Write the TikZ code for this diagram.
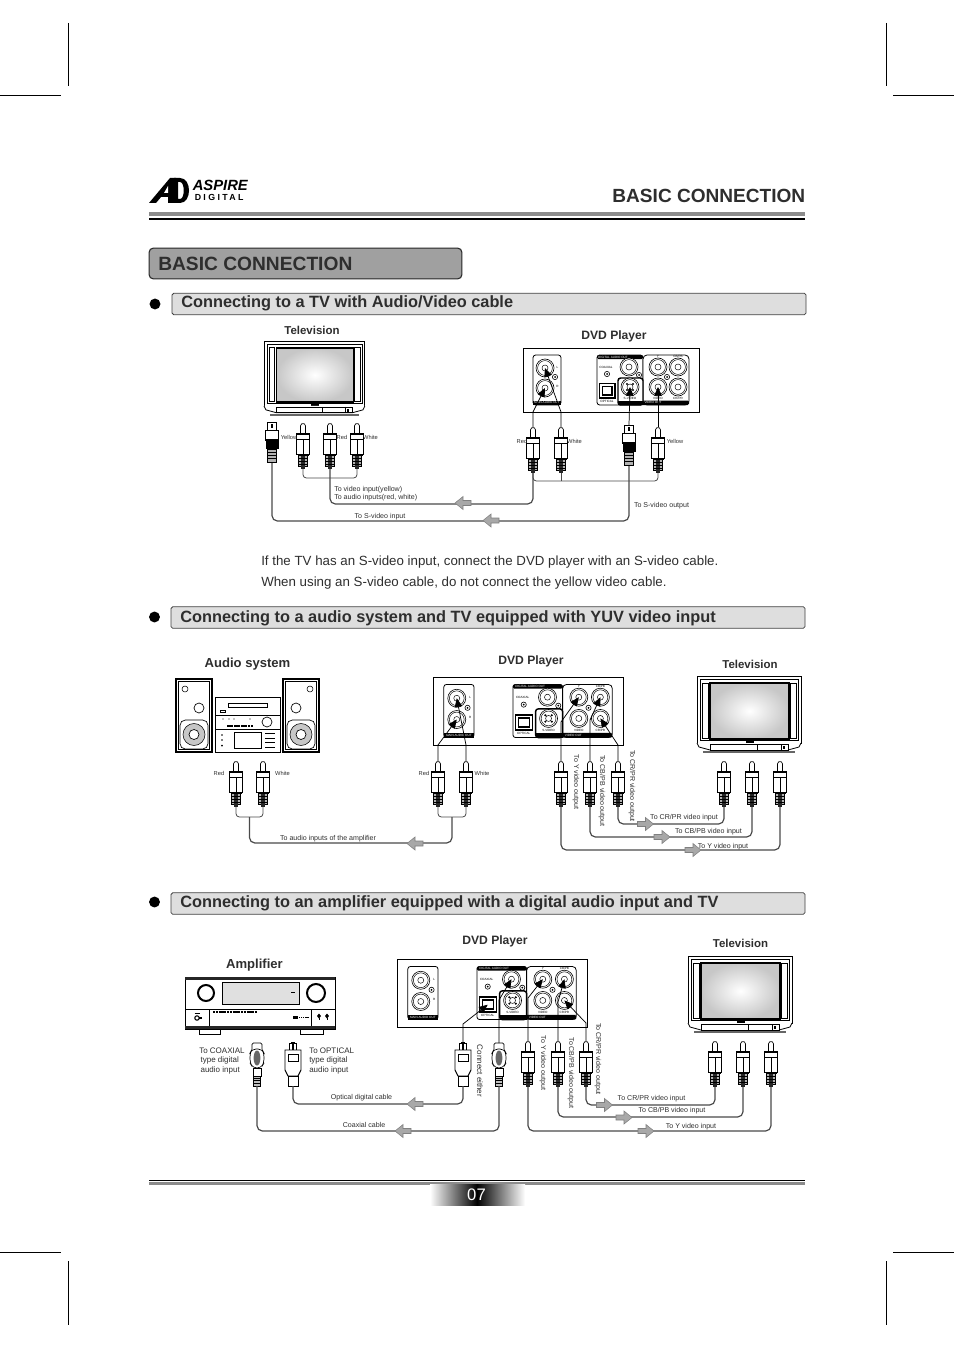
\documentclass[tikz,border=0pt]{standalone}
\usepackage{fontspec}
\setmainfont{Liberation Sans}
\newfontfamily\logofont[LetterSpace=27]{Liberation Sans}
\usetikzlibrary{positioning, arrows.meta, calc}
\definecolor{txtDark}{HTML}{2E2E2E}
\definecolor{flowGray}{HTML}{A8A8A8}
\definecolor{headGray}{HTML}{A0A0A0}
\definecolor{secGray}{HTML}{DEDEDE}
\definecolor{cableGray}{HTML}{4A4A4A}
\tikzset{
  lab/.style={font=\fontsize{5.3}{6.2}\selectfont, text=txtDark, inner sep=0pt, align=left, yshift=-.75pt},
  labS/.style={lab, font=\fontsize{4.3}{5}\selectfont},
  ttl/.style={font=\fontsize{8.6}{10}\bfseries\selectfont, text=txtDark, inner sep=0pt},
  ttlD/.style={font=\fontsize{9.1}{10}\bfseries\selectfont, text=txtDark, inner sep=0pt, yshift=-1.1pt},
  ttlB/.style={font=\fontsize{9.8}{11}\bfseries\selectfont, text=txtDark, inner sep=0pt, yshift=-.6pt},
  sechead/.style={font=\fontsize{12.25}{14}\bfseries\selectfont, text=txtDark, inner sep=0pt, anchor=west},
  secbox/.style={draw=black!75, fill=secGray, line width=.6pt, rounded corners=1.2pt, inner sep=0pt,
                 minimum width=475.5pt, minimum height=16pt},
  bul/.style={circle, fill=black, inner sep=0pt, minimum size=8.2pt},
  cable/.style={draw=cableGray, line width=.9pt, rounded corners=4pt},
  tee/.style={draw=cableGray, line width=.6pt, rounded corners=2.5pt},
  lead/.style={draw=black, line width=.55pt, -{Triangle[length=6.5pt,width=5.6pt]}},
  crop/.style={draw=black, line width=.5pt},
  tiny/.style={font=\fontsize{2.3}{3}\selectfont, inner sep=0pt},
  plugln/.style={draw=black, line width=.5pt},
  conn/.pic={
    \draw[black, line width=.45pt, fill=white] (0,0) circle (9);
    \draw[black, line width=.35pt] (0,0) circle (7.4);
    \draw[black, line width=.35pt] (0,0) circle (3);
  },
  screw/.pic={
    \draw[black, line width=.45pt] (0,0) circle (2.6);
    \fill[black] (0,0) circle (1);
  },
  rca/.pic={
    \draw[plugln, fill=white, rounded corners=1pt] (-2.5,10) -- (-2.5,1.5) -- (0,0) -- (2.5,1.5) -- (2.5,10);
    \draw[plugln, fill=white, line width=.65pt] (-6.5,10) rectangle (6.5,31);
    \fill[black] (-6.5,10) rectangle (6.5,11.5);
    \draw[black, line width=.3pt] (-6.5,16) -- (6.5,16) (0,16) -- (0,31);
    \fill[black] (-5.5,30.5) rectangle (5.5,32.5);
    \draw[plugln, fill=black!30] (-4.5,32.5) rectangle (4.5,43);
    \fill[black!85] (-1.7,32.5) rectangle (1.7,46);
    \foreach \yy in {35,38,41}{ \draw[black, line width=.35pt] (-4.5,\yy) -- (4.5,\yy); }
    \coordinate (-top) at (0,0);
    \coordinate (-bot) at (0,46);
  },
  svidplug/.pic={
    \draw[plugln, fill=white] (-4.5,0) rectangle (4.5,8);
    \fill[black] (-1,2) rectangle (1,6);
    \draw[plugln, fill=white] (-6.5,8) rectangle (6.5,18);
    \fill[black] (-6.5,17) rectangle (6.5,27);
    \draw[plugln, fill=black!30] (-4.5,27) rectangle (4.5,40);
    \foreach \yy in {30,33,36}{ \draw[black, line width=.4pt] (-4.5,\yy) -- (4.5,\yy); }
    \coordinate (-top) at (0,0);
    \coordinate (-bot) at (0,41);
  },
  coaxplug/.pic={
    \draw[plugln, fill=white, rounded corners=1pt] (-5,6) -- (-5,0) -- (5,0) -- (5,6);
    \draw[plugln, fill=white, rounded corners=3pt] (-5,6) -- (-7,10) -- (-7,20) -- (-4,25) -- (4,25) -- (7,20) -- (7,10) -- (5,6) -- cycle;
    \fill[black!60] (0,15) ellipse (3.4 and 7.5);
    \draw[plugln, fill=white] (-4,25) rectangle (4,33);
    \draw[plugln, fill=black!25] (-3.5,33) rectangle (3.5,43);
    \foreach \yy in {35,37.5,40}{ \draw[black, line width=.35pt] (-3.5,\yy) -- (3.5,\yy); }
    \coordinate (-top) at (0,0);
    \coordinate (-bot) at (0,43);
  },
  optplug/.pic={
    \draw[plugln, fill=white] (-3.5,1) -- (-1.5,1) -- (-1.5,0) -- (1.5,0) -- (1.5,1) -- (3.5,1) -- (3.5,8) -- (-3.5,8) -- cycle;
    \fill[black] (-1,1) rectangle (1,8);
    \draw[plugln, fill=white, line width=.7pt] (-8,8) -- (8,8) -- (8,28) -- (5,34) -- (-5,34) -- (-8,28) -- cycle;
    \draw[plugln] (-5,12) rectangle (5,19);
    \draw[plugln, fill=white] (-5,34) rectangle (5,44);
    \coordinate (-top) at (0,0);
    \coordinate (-bot) at (0,44);
  },
  flowarr/.pic={
    \draw[draw=black!50, fill=flowGray, line width=.4pt]
      (-8,-2.5) -- (0,-2.5) -- (0,-6.5) -- (8,0) -- (0,6.5) -- (0,2.5) -- (-8,2.5) -- cycle;
  },
  tvset/.pic={
    \draw[black, line width=.7pt, fill=white] (0,0) rectangle (104,67);
    \draw[black, line width=.35pt] (3,3) rectangle (101,64);
    \draw[black, line width=.45pt] (5,7) rectangle (11,62);
    \draw[black, line width=.45pt] (93,7) rectangle (99,62);
    \shade[inner color=white, outer color=black!22] (13,7) rectangle (92,63);
    \draw[black, line width=1.1pt] (13,7) rectangle (92,63);
    \draw[black, line width=.3pt] (49,65) rectangle (56,66.5);
    \draw[black, line width=.6pt, fill=white] (0,67) -- (2,71) -- (13,74) -- (91,74) -- (102,71) -- (104,67);
    \draw[black, line width=.5pt, fill=white] (13,68) rectangle (91,74);
    \draw[black, line width=.4pt] (60,68) -- (60,74) (84,68) -- (84,74);
    \fill[black] (86,70) rectangle (88,73);
    \fill[black!60] (6,75) rectangle (98,77);
  },
  dvdpanel/.pic={
    \draw[black, line width=.7pt, fill=white] (0,0) rectangle (176,64);
    % analogue audio block
    \draw[black, line width=.6pt, rounded corners=2pt, fill=white] (10,7) rectangle (38,57);
    \fill[black] (10,52.5) rectangle (38,57);
    \node[tiny, text=white] (-mainT) at (24,54.8) {MAIN AUDIO OUT};
    \pic at (22,20) {conn};
    \pic at (22,40) {conn};
    \pic at (32,29) {screw};
    \node[tiny] (-lT) at (34.5,19) {L};
    \node[tiny] (-rT) at (34.5,38) {R};
    % digital block
    \draw[black, line width=.6pt, rounded corners=2pt, fill=white] (74,7) rectangle (120,57);
    \fill[black, rounded corners=1pt] (74,7) rectangle (120,11);
    \node[tiny, text=white] (-digT) at (90,9) {DIGITAL AUDIO OUT};
    \node[tiny] (-coaxT) at (83,19) {COAXIAL};
    \pic at (84,26) {screw};
    \pic at (106,19) {conn};
    \draw[black, line width=1.2pt, fill=white] (76.5,35.5) rectangle (92,50);
    \draw[black, line width=.9pt] (79.5,38.5) rectangle (89,47);
    \node[tiny] (-optT) at (84,53) {OPTICAL};
    % video block
    \draw[black, line width=.6pt, rounded corners=3pt, fill=white] (120,7) rectangle (166,57);
    \fill[black, rounded corners=1pt] (95,52.5) rectangle (166,57);
    \draw[black, line width=1.1pt, rounded corners=2pt, fill=white] (95,30) rectangle (120,57);
    \fill[black] (95,52.5) rectangle (120,57);
    \pic at (107,39) {conn};
    \foreach \xx/\yy in {-3/-3,3/-3,-3/3,3/3}{ \fill[black] ($(107,39)+(\xx,\yy)$) circle (1.1); }
    \pic at (135,19) {conn};
    \pic at (155,19) {conn};
    \pic at (135,39) {conn};
    \pic at (155,39) {conn};
    \pic at (144,29) {screw};
    \pic at (116,27) {screw};
    \node[tiny] (-yT) at (135,8.5) {Y};
    \node[tiny] (-cbT) at (155,8.5) {CB/PB};
    \node[tiny] (-svT) at (107,50.5) {S-VIDEO};
    \node[tiny] (-vT) at (135,50.5) {VIDEO};
    \node[tiny] (-crT) at (155,50.5) {CR/PR};
    \node[tiny, text=white] (-voutT) at (130,54.8) {VIDEO OUT};
    % jacks the leads run to
    \coordinate (-audL) at (22,20);
    \coordinate (-audR) at (22,40);
    \coordinate (-coax) at (106,19);
    \coordinate (-opt) at (84,43);
    \coordinate (-svid) at (107,39);
    \coordinate (-video) at (135,39);
    \coordinate (-y) at (135,19);
    \coordinate (-cb) at (155,19);
    \coordinate (-cr) at (155,39);
  },
  speaker/.pic={
    \draw[black, line width=1pt, fill=white] (0,0) rectangle (36,73);
    \draw[black, line width=.9pt] (2.5,2.5) rectangle (33.5,70.5);
    \draw[black, line width=.4pt] (9,10) circle (3);
    \draw[black, line width=.5pt] (23,29) circle (5);
    \draw[black, line width=.5pt, rounded corners=4pt] (4,41) rectangle (32,70);
    \draw[black, line width=.4pt, fill=black!22] (18,55.5) circle (11);
    \draw[black, line width=.5pt, fill=white] (18,55.5) circle (5);
  },
  hifi/.pic={
    \draw[black, line width=.7pt, fill=white] (0,0) rectangle (65,55);
    \draw[black, line width=.6pt] (0,18) -- (65,18) (0,32) -- (65,32);
    \draw[black, line width=.5pt] (13,6) rectangle (52,10);
    \draw[black, line width=.5pt] (5,13) rectangle (10,15.5);
    \foreach \xx in {8,14,19,35}{ \fill[black] (\xx,22) circle (.7); }
    \draw[black, line width=.5pt] (52,25) circle (5);
    \draw[black, line width=1pt, dash pattern=on 2pt off .6pt] (12,29) -- (38,29);
    \foreach \yy in {38,43,48.6}{ \fill[black] (7,\yy) circle (.9); }
    \draw[black, line width=.5pt] (19,35) rectangle (46,51.5);
    \foreach \yy in {36,41,45,50}{ \draw[black, line width=.7pt] (50,\yy) -- (60,\yy); }
  },
  ampunit/.pic={
    \draw[black, line width=.5pt, fill=white] (14,49) rectangle (35,57);
    \draw[black, line width=.5pt, fill=white] (115,49) rectangle (138,57);
    \draw[black, line width=.7pt, fill=white] (0,0) rectangle (150,52);
    \fill[black!85] (0,0) rectangle (150,2.5);
    \fill[black!85] (0,48.5) rectangle (150,52);
    \draw[black, line width=.5pt, fill=black!12] (37,5) rectangle (114,27);
    \fill[black] (106,14.5) rectangle (110,16);
    \draw[black, line width=1.5pt, fill=white] (21,16) circle (8);
    \draw[black, line width=1.5pt, fill=white] (131,16) circle (9);
    \draw[black, line width=.6pt] (0,32) -- (150,32);
    \draw[black, line width=.7pt] (24,32) -- (24,49) (126,32) -- (126,49);
    \draw[black, line width=1pt, dash pattern=on 1.6pt off .5pt] (28,35) -- (72,35);
    \fill[black] (108,38.5) rectangle (113,41.5);
    \draw[black, line width=.7pt, dash pattern=on 1pt off .4pt] (114,40) -- (124,40);
    \foreach \xx in {134,142}{
      \fill[black] (\xx-2,39) -- (\xx,36.5) -- (\xx+2,39) -- (\xx,41.5) -- cycle;
      \draw[black, line width=.6pt] (\xx,41) -- (\xx,43);
    }
    \draw[black, line width=.8pt] (12,41) circle (2.2);
    \draw[black, line width=.8pt] (9.5,36.5) -- (14.5,36.5) (14,41) -- (17,41);
  },
}
\begin{document}
\begin{tikzpicture}[x=.75pt, y=-.75pt]
  \useasboundingbox (0,0) rectangle (954,1348);
  % --- crop marks ---
  \foreach \x in {68,886}{
    \draw[crop] (\x,23) -- (\x,86);
    \draw[crop] (\x,1261) -- (\x,1325);
  }
  \foreach \y in {95,1252}{
    \draw[crop] (0,\y) -- (61,\y);
    \draw[crop] (893,\y) -- (954,\y);
  }
  % --- page head ---
  \fill[black] (149,203) -- (170,178) -- (176,178) -- (176,203) -- (168,203) -- (168,197) -- (161,197) -- (156,203) -- cycle;
  \fill[white] (168,193) -- (168,186) -- (164,193) -- cycle;
  \fill[black, even odd rule] (174,178) -- (180,178) .. controls (192,178) and (192,203) .. (180,203) -- (174,203) -- cycle
    (178,182) -- (178,199) -- (180,199) .. controls (185,199) and (185,182) .. (180,182) -- cycle;
  \node[inner sep=0pt, anchor=west, font=\fontsize{11.1}{12}\bfseries\itshape\selectfont] (logoTop) at (192.5,185) {ASPIRE};
  \node[inner sep=0pt, anchor=west, font=\fontsize{6.6}{7}\selectfont\logofont\bfseries] (logoSub) at (194.5,197) {DIGITAL};
  \node[inner sep=0pt, anchor=east, text=txtDark, font=\fontsize{14.3}{16}\bfseries\selectfont] (headR) at (805.5,196) {BASIC CONNECTION};
  \fill[black!45] (149,212.5) rectangle (805,216.5);
  \draw[black, line width=.9pt] (149,219) -- (805,219);
  \node[draw=black!85, fill=headGray, line width=.8pt, rounded corners=3pt, inner sep=0pt, minimum width=234.5pt, minimum height=23pt] (mainBox) at (305.5,263.5) {};
  \node[inner sep=0pt, anchor=west, text=txtDark, font=\fontsize{14.4}{16}\bfseries\selectfont] (mainTxt) at (158,264) {BASIC CONNECTION};
  % --- section one: TV with audio/video cable ---
  \node[bul] (bulA) at (155,304) {};
  \node[secbox] (secA) at (489,304) {};
  \node[sechead] (secAt) at (181,303) {Connecting to a TV with Audio/Video cable};
  \node[ttl] (ttlTvA) at (312,330) {Television};
  \node[ttlD] (ttlDvdA) at (614,335) {DVD Player};
  \pic[scale=.97] (tvA) at (264,341) {tvset};
  \pic (dvdA) at (523,348) {dvdpanel};
  \pic (aS) at (272,422) {svidplug};
  \foreach \nm/\x in {aY/303,aR/330,aW/357}{ \pic (\nm) at (\x,423) {rca}; }
  \pic (aDS) at (629,425) {svidplug};
  \foreach \nm/\x in {aDR/533,aDW/561,aDY/658}{ \pic (\nm) at (\x,427) {rca}; }
  \draw[lead] (aDR-top) -- ++(0,-15) -- (dvdA-audR);
  \draw[lead] (aDW-top) -- ++(0,-15) -- (dvdA-audL);
  \draw[lead] (aDS-top) -- (dvdA-svid);
  \draw[lead] (aDY-top) -- (dvdA-video);
  \draw[tee] (aY-bot) -- ++(0,9) -| (aW-bot);
  \draw[cable] (aR-bot) -- ++(0,35) -| (aDR-bot);
  \draw[tee] (aDR-bot) -- ++(0,8) -| (aDY-bot);
  \draw[tee] (aDW-bot) -- ++(0,8);
  \draw[cable] (aS-bot) -- ++(0,58) -| (aDS-bot);
  \pic[xscale=-1] at (463,503) {flowarr};
  \pic[xscale=-1] at (491,520.5) {flowarr};
  \node[labS] (lY1) at (289,436) {Yellow};
  \node[labS] (lR1) at (342,436) {Red};
  \node[labS] (lW1) at (370.5,436) {White};
  \node[labS] (lR2) at (522,440) {Red};
  \node[labS] (lW2) at (574.5,440) {White};
  \node[labS] (lY2) at (675,440) {Yellow};
  \node[lab, anchor=west] (lIn) at (334,493) {To video input(yellow)\\[-.2pt]To audio inputs(red, white)};
  \node[lab] (lSin) at (380,516) {To S-video input};
  \node[lab] (lSout) at (661.5,504.5) {To S-video output};
  \node[anchor=west, inner sep=0pt, text=txtDark, font=\fontsize{9.98}{11}\selectfont] (noteA) at (261,562) {If the TV has an S-video input, connect the DVD player with an S-video cable.};
  \node[anchor=west, inner sep=0pt, text=txtDark, font=\fontsize{9.98}{11}\selectfont] (noteB) at (261,583) {When using an S-video cable, do not connect the yellow video cable.};
  % --- section two: audio system and YUV TV ---
  \node[bul] (bulB) at (154.5,617) {};
  \node[secbox] (secB) at (488,617.5) {};
  \node[sechead] (secBt) at (180,618) {Connecting to a audio system and TV equipped with YUV video input};
  \node[ttlB] (ttlAud) at (247.5,663.5) {Audio system};
  \node[ttlD] (ttlDvdB) at (531,660) {DVD Player};
  \node[ttl] (ttlTvB) at (750,664) {Television};
  \pic (spkL) at (176,679) {speaker};
  \pic[xscale=-1] (spkR) at (319,679) {speaker};
  \pic (hifiB) at (215,697) {hifi};
  \pic[xscale=1.08,yscale=1.0625] (dvdB) at (433,677) {dvdpanel};
  \pic (tvB) at (697,676) {tvset};
  \foreach \nm/\x in {bR/236,bW/263,bDR/438,bDW/466,bY/561,bB/590,bC/618,bTC/724,bTB/752,bTY/780}{
    \pic (\nm) at (\x,761) {rca};
  }
  \draw[lead] (bDR-top) -- ++(0,-16) -- (dvdB-audR);
  \draw[lead] (bDW-top) -- ++(0,-16) -- (dvdB-audL);
  \draw[lead] (bY-top) -- ++(0,-39) -- (dvdB-y);
  \draw[lead] (bB-top) -- ++(0,-41) -- (dvdB-cb);
  \draw[lead] (bC-top) -- ++(0,-16) -- (dvdB-cr);
  \draw[tee] (bR-bot) -- ++(0,10) -| (bW-bot);
  \draw[tee] (bDR-bot) -- ++(0,10) -| (bDW-bot);
  \coordinate (bJoinL) at ($(bR-bot)!.5!(bW-bot)+(0,10)$);
  \coordinate (bJoinR) at ($(bDR-bot)!.5!(bDW-bot)+(0,10)$);
  \draw[cable] (bJoinL) -- ++(0,26) -| (bJoinR);
  \draw[cable] (bC-bot) -- ++(0,17) -| (bTC-bot);
  \draw[cable] (bB-bot) -- ++(0,30) -| (bTB-bot);
  \draw[cable] (bY-bot) -- ++(0,43) -| (bTY-bot);
  \pic[xscale=-1] at (415,843.5) {flowarr};
  \pic at (645.5,824) {flowarr};
  \pic at (662,837) {flowarr};
  \pic at (693,850) {flowarr};
  \node[labS] (lR3) at (219,772) {Red};
  \node[labS] (lW3) at (282.5,772) {White};
  \node[labS] (lR4) at (424,772) {Red};
  \node[labS] (lW4) at (482,772) {White};
  \node[lab] (lAmpIn) at (328,838) {To audio inputs of the amplifier};
  \node[lab, rotate=-90] (lYo) at (576,781) {To Y video output};
  \node[lab, rotate=-90] (lBo) at (602,790) {To CB/PB video output};
  \node[lab, rotate=-90] (lCo) at (632,785) {To CR/PR video output};
  \node[lab] (lCi) at (684,816.5) {To CR/PR video input};
  \node[lab] (lBi) at (708.5,831) {To CB/PB video input};
  \node[lab] (lYi) at (723,845.5) {To Y video input};
  % --- section three: amplifier with digital input and TV ---
  \node[bul] (bulC) at (154.5,902) {};
  \node[secbox] (secC) at (488,903.5) {};
  \node[sechead] (secCt) at (180,903) {Connecting to an amplifier equipped with a digital audio input and TV};
  \node[ttlB] (ttlAmp) at (254.5,964) {Amplifier};
  \node[ttlD] (ttlDvdC) at (495,940) {DVD Player};
  \node[ttl] (ttlTvC) at (740.5,943.5) {Television};
  \pic (amp) at (185,977) {ampunit};
  \pic[xscale=1.08,yscale=1.0625] (dvdC) at (397,959) {dvdpanel};
  \pic (tvC) at (688,956) {tvset};
  \pic (cCa) at (257,1043) {coaxplug};
  \pic (cOa) at (293,1042) {optplug};
  \pic (cOd) at (463,1042) {optplug};
  \pic (cCd) at (499,1043) {coaxplug};
  \foreach \nm/\x in {cY/528,cB/558,cC/586,cTC/715,cTB/743,cTY/771}{
    \pic (\nm) at (\x,1041) {rca};
  }
  \draw[lead] (cOd-top) -- ++(0,-18) -- (dvdC-opt);
  \draw[lead] (cCd-top) -- ++(0,-43) -- (dvdC-coax);
  \draw[lead] (cY-top) -- ++(0,-43) -- (dvdC-y);
  \draw[lead] (cB-top) -- ++(0,-39) -- (dvdC-cb);
  \draw[lead] (cC-top) -- ++(0,-18) -- (dvdC-cr);
  \draw[cable] (cOa-bot) -- ++(0,18) -| (cOd-bot);
  \draw[cable] (cCa-bot) -- ++(0,45) -| (cCd-bot);
  \draw[cable] (cC-bot) -- ++(0,18) -| (cTC-bot);
  \draw[cable] (cB-bot) -- ++(0,30) -| (cTB-bot);
  \draw[cable] (cY-bot) -- ++(0,44) -| (cTY-bot);
  \pic[xscale=-1] at (415,1104) {flowarr};
  \pic[xscale=-1] at (403,1131) {flowarr};
  \pic at (604.5,1105) {flowarr};
  \pic at (624,1117.5) {flowarr};
  \pic at (646,1131) {flowarr};
  \node[lab, anchor=west, font=\fontsize{6}{6.8}\selectfont] (lCoax) at (199,1060) {To COAXIAL\\\,type digital\\\,audio input};
  \node[lab, anchor=west, font=\fontsize{6}{6.8}\selectfont] (lOpt) at (309,1060) {To OPTICAL\\type digital\\audio input};
  \node[lab, rotate=-90, font=\fontsize{6}{7}\selectfont] (lEither) at (480,1070) {Connect either};
  \node[lab] (lOptC) at (361.5,1097) {Optical digital cable};
  \node[lab] (lCoaxC) at (364,1124) {Coaxial cable};
  \node[lab, rotate=-90] (lYo2) at (543,1062) {To Y video output};
  \node[lab, rotate=-90] (lBo2) at (571,1072) {To CB/PB video output};
  \node[lab, rotate=-90] (lCo2) at (598,1058) {To CR/PR video output};
  \node[lab] (lCi2) at (651.5,1098) {To CR/PR video input};
  \node[lab] (lBi2) at (672,1110) {To CB/PB video input};
  \node[lab] (lYi2) at (691,1126) {To Y video input};
  % --- page foot ---
  \draw[black, line width=.9pt] (149,1180.5) -- (805,1180.5);
  \fill[black!45] (149,1182) rectangle (805,1185);
  \shade[left color=white, right color=black] (430,1184) rectangle (477,1205);
  \shade[left color=black, right color=white] (477,1184) rectangle (525,1205);
  \node[inner sep=0pt, text=white, font=\fontsize{12.5}{14}\selectfont] (pageNo) at (476.5,1194.5) {07};
\end{tikzpicture}
\end{document}
